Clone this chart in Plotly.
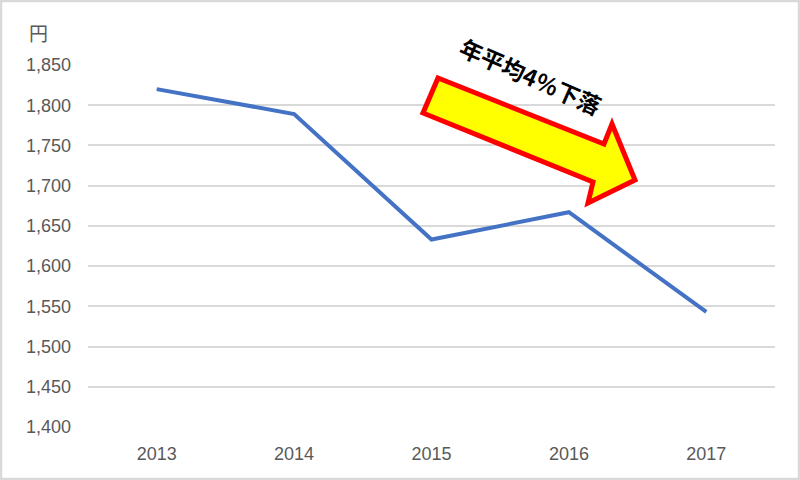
import plotly.graph_objects as go

years = ["2013", "2014", "2015", "2016", "2017"]
prices = [1820, 1789, 1633, 1667, 1543]
y_ticks = [1400, 1450, 1500, 1550, 1600, 1650, 1700, 1750, 1800, 1850]
unit_label = "円"
callout_text = "年平均4％下落"

WIDTH, HEIGHT = 800, 480
ML, MR, MT, MB = 88, 25, 65, 53
PW, PH = WIDTH - ML - MR, HEIGHT - MT - MB


def px(x):
    return (x - ML) / PW


def py(y):
    return (HEIGHT - MB - y) / PH


fig = go.Figure()
fig.add_trace(go.Scatter(
    x=years, y=prices, mode="lines",
    line=dict(color="#4472C4", width=4),
    hoverinfo="skip", showlegend=False,
))

# arrow decoration (pixel-defined outline converted to paper coords)
arrow_pts = [(438, 78), (604, 144), (612, 124), (635, 180), (588, 203), (593, 182), (423, 113)]
path = "M " + " L ".join(f"{px(x):.5f},{py(y):.5f}" for x, y in arrow_pts) + " Z"
fig.add_shape(type="path", xref="paper", yref="paper", path=path,
              fillcolor="#FFFF00", line=dict(color="#FF0000", width=5), layer="above")

# outer frame
fig.add_shape(type="rect", xref="paper", yref="paper",
              x0=px(1), y0=py(1), x1=px(799), y1=py(479),
              line=dict(color="#D9D9D9", width=2.5))

fig.add_annotation(text=callout_text, xref="paper", yref="paper",
                   x=px(531), y=py(76), xanchor="center", yanchor="middle",
                   textangle=24, showarrow=False,
                   font=dict(family="Noto Sans CJK JP", size=23, color="#000000", weight="bold"))

fig.add_annotation(text=unit_label, xref="paper", yref="paper",
                   x=px(38), y=py(32), xanchor="center", yanchor="middle",
                   showarrow=False,
                   font=dict(family="Noto Sans CJK JP", size=19, color="#595959"))

fig.update_layout(
    width=WIDTH, height=HEIGHT,
    margin=dict(l=ML, r=MR, t=MT, b=MB, pad=0),
    paper_bgcolor="white", plot_bgcolor="white",
    font=dict(family="Liberation Sans, Arial", color="#595959", size=18),
)
fig.update_xaxes(type="category", range=[-0.5, 4.5], showgrid=False, zeroline=False,
                 showline=False, ticks="", ticklabelstandoff=14,
                 tickfont=dict(size=18, color="#595959"))
fig.update_yaxes(range=[1400, 1850], tickvals=y_ticks, tickformat=",", showgrid=True,
                 gridcolor="#D9D9D9", gridwidth=1.5, zeroline=False, showline=False,
                 ticks="", ticklabelstandoff=16,
                 tickfont=dict(size=18, color="#595959"))

fig.write_html("out.html", config={"displayModeBar": False},
               post_script="document.body.style.margin='0';document.body.style.overflow='hidden';")
